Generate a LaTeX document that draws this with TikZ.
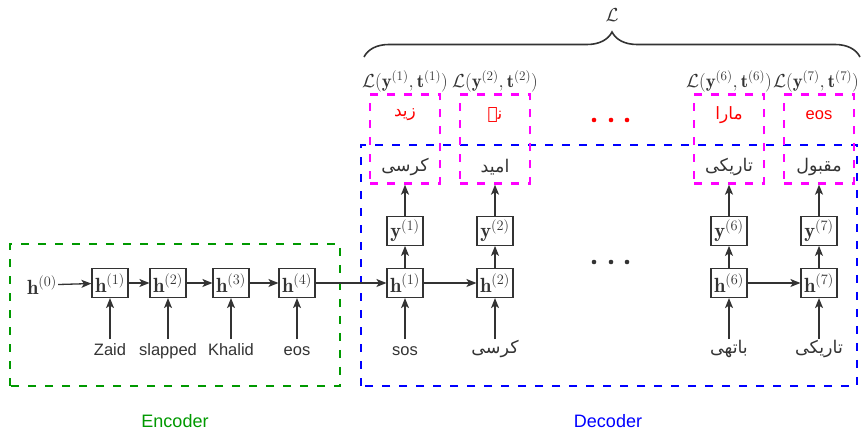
\RequirePackage{fix-cm}
\documentclass[tikz,border=0pt]{standalone}
\usepackage{amsmath}
\usepackage{fontspec}
\setsansfont{Liberation Sans}
\newfontfamily\urdufont[Script=Arabic]{DejaVu Sans}
\TeXXeTstate=1
\usetikzlibrary{
  arrows.meta,
  positioning,
  decorations.pathreplacing
}
\definecolor{ArrowGray}{RGB}{51,51,51}
\definecolor{EncoderGreen}{RGB}{0,153,0}
\definecolor{DecoderBlue}{RGB}{0,0,255}
\definecolor{LossMagenta}{RGB}{255,0,255}
\definecolor{TargetRed}{RGB}{255,0,0}
\newcommand{\urduword}[1]{{\urdufont\beginR #1\endR}}
\tikzset{
  hidden/.style={draw=ArrowGray,line width=1.2pt,fill=white,minimum width=36pt,minimum height=29pt,inner sep=0.5pt,text=ArrowGray,font=\fontsize{20.5}{23}\selectfont},
  initstate/.style={inner sep=1pt,text=ArrowGray,font=\fontsize{20.5}{23}\selectfont},
  token/.style={text=ArrowGray,text height=12pt,text depth=4pt,inner sep=4pt,font=\sffamily\fontsize{16.5}{19}\selectfont},
  urdutoken/.style={text=ArrowGray,inner sep=2pt,font=\fontsize{17.5}{20}\selectfont},
  target/.style={text=TargetRed,inner sep=2pt,font=\fontsize{17}{20}\selectfont},
  lossbox/.style={draw=LossMagenta,line width=2.6pt,dash pattern=on 8pt off 9pt,minimum width=70pt,minimum height=89pt,inner sep=0pt},
  losslabel/.style={inner sep=1pt,text=ArrowGray,font=\fontsize{18.8}{22}\selectfont},
  encframe/.style={draw=EncoderGreen,line width=2.6pt,dash pattern=on 8pt off 9pt},
  decframe/.style={draw=DecoderBlue,line width=2.6pt,dash pattern=on 8pt off 9pt},
  framelabel/.style={inner sep=1pt,font=\sffamily\fontsize{18}{21}\selectfont},
  flow/.style={-{Stealth[length=10pt,width=8pt,inset=2.5pt]},line width=1.3pt,draw=ArrowGray},
  lossbrace/.style={decorate,decoration={brace,amplitude=25pt},line width=1.6pt,draw=ArrowGray}
}

\begin{document}
\begin{tikzpicture}[x=1pt,y=1pt,node distance=22pt and 20pt]
\useasboundingbox (0,0) rectangle (861,430);
\draw[encframe] (10,44) rectangle (340,186);
\draw[decframe] (361,44) rectangle (857,285);

\node[initstate] (h0) at (42,145) {$\mathbf{h}^{(0)}$};
\node[hidden] (enc1) at (110,147) {$\mathbf{h}^{(1)}$};
\node[hidden] (enc2) at (168,147) {$\mathbf{h}^{(2)}$};
\node[hidden] (enc3) at (231,147) {$\mathbf{h}^{(3)}$};
\node[hidden] (enc4) at (297,147) {$\mathbf{h}^{(4)}$};
\node[token, below=41pt of enc1] (src1) {Zaid};
\node[token, below=41pt of enc2] (src2) {slapped};
\node[token, below=41pt of enc3] (src3) {Khalid};
\node[token, below=41pt of enc4] (src4) {eos};

\node[hidden] (dec1) at (405,147) {$\mathbf{h}^{(1)}$};
\node[hidden] (dec2) at (495,147) {$\mathbf{h}^{(2)}$};
\node[hidden] (dec6) at (729,147) {$\mathbf{h}^{(6)}$};
\node[hidden] (dec7) at (819,147) {$\mathbf{h}^{(7)}$};
\node[hidden, above=of dec1] (out1) {$\mathbf{y}^{(1)}$};
\node[hidden, above=of dec2] (out2) {$\mathbf{y}^{(2)}$};
\node[hidden, above=of dec6] (out6) {$\mathbf{y}^{(6)}$};
\node[hidden, above=of dec7] (out7) {$\mathbf{y}^{(7)}$};
\node[token, below=41pt of dec1] (in1) {sos};
\node[token, urdutoken, below=41pt of dec2] (in2) {\urduword{کرسی}};
\node[token, urdutoken, below=41pt of dec6] (in6) {\urduword{باتهی}};
\node[token, urdutoken, below=41pt of dec7] (in7) {\urduword{تاریکی}};

\node[lossbox, above=31pt of out1] (pred1) {};
\node[lossbox, above=31pt of out2] (pred2) {};
\node[lossbox, above=31pt of out6] (pred6) {};
\node[lossbox, above=31pt of out7] (pred7) {};
\node[target] (tgt1) at ([yshift=24pt]pred1.center) {\urduword{زید}};
\node[target] (tgt2) at ([yshift=24pt]pred2.center) {\urduword{نے}};
\node[target] (tgt6) at ([yshift=24pt]pred6.center) {\urduword{مارا}};
\node[target, font=\sffamily\fontsize{16.5}{19}\selectfont] (tgt7) at ([yshift=24pt]pred7.center) {eos};
\node[urdutoken] (word1) at ([yshift=-28pt]pred1.center) {\urduword{کرسی}};
\node[urdutoken] (word2) at ([yshift=-28pt]pred2.center) {\urduword{امید}};
\node[urdutoken] (word6) at ([yshift=-28pt]pred6.center) {\urduword{تاریکی}};
\node[urdutoken] (word7) at ([yshift=-28pt]pred7.center) {\urduword{مقبول}};
\node[losslabel, above=0pt of pred1] (loss1) {$\mathcal{L}(\mathbf{y}^{(1)},\mathbf{t}^{(1)})$};
\node[losslabel, above=0pt of pred2] (loss2) {$\mathcal{L}(\mathbf{y}^{(2)},\mathbf{t}^{(2)})$};
\node[losslabel, above=0pt of pred6] (loss6) {$\mathcal{L}(\mathbf{y}^{(6)},\mathbf{t}^{(6)})$};
\node[losslabel, above=0pt of pred7, xshift=-3pt] (loss7) {$\mathcal{L}(\mathbf{y}^{(7)},\mathbf{t}^{(7)})$};

\coordinate (braceleft) at (364,373);
\coordinate (braceright) at (860,373);
\node[losslabel] (total) at (612,415) {$\mathcal{L}$};
\node[framelabel, text=EncoderGreen] (enclabel) at (175,9) {Encoder};
\node[framelabel, text=DecoderBlue] (declabel) at (608,9) {Decoder};

\draw[flow] (h0) -- (enc1);
\draw[flow] (enc1) -- (enc2);
\draw[flow] (enc2) -- (enc3);
\draw[flow] (enc3) -- (enc4);
\draw[flow] (enc4) -- (dec1);
\draw[flow] (dec1) -- (dec2);
\draw[flow] (dec6) -- (dec7);
\foreach \i in {1,2,3,4} {
  \draw[flow] (src\i) -- (enc\i);
}
\foreach \i in {1,2,6,7} {
  \draw[flow] (in\i) -- (dec\i);
  \draw[flow] (dec\i) -- (out\i);
  \draw[flow] (out\i) -- (pred\i);
}
\draw[lossbrace] (braceleft) -- (braceright);
\foreach \x in {594,611,627} {
  \fill[TargetRed] (\x,310) circle (2.3);
  \fill[ArrowGray] (\x,168) circle (2.3);
}
\end{tikzpicture}
\end{document}
